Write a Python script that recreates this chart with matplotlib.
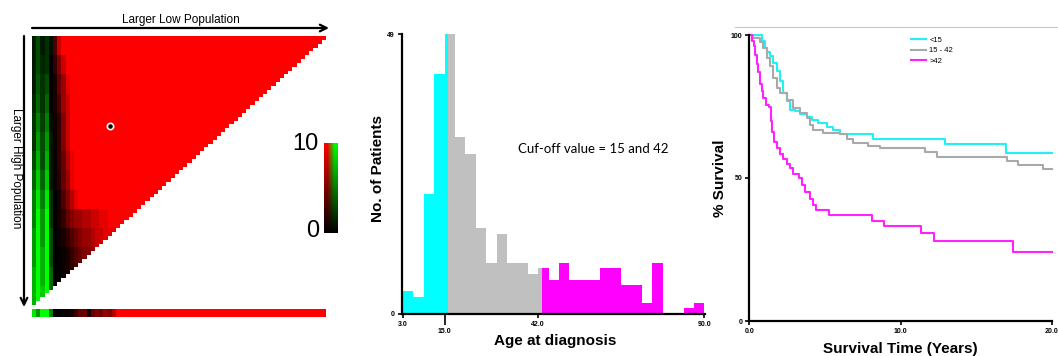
import numpy as np
import matplotlib
matplotlib.use('Agg')
from matplotlib import pyplot as plt
from matplotlib.colors import LinearSegmentedColormap

plt.rcParams['font.family'] = 'Liberation Sans'

W, H = 1058, 356

# ------------------------------------------------------------
# X-tile plot (left): signed chi-square, green = inverse, red = direct
n_cells = 70
rows_per_band = 5
# values for the first columns of each 5-row band, every other column is saturated red (10)
band_00 = [-1, -3, -1, -2, -0.5, 3, 8]
band_01 = [-1, -3, -1.5, -2, 0, 2, 5, 8]
band_02 = [-1, -3.5, -2, -3, 0, 1, 4, 6, 9]
band_03 = [-1.5, -4, -2, -4, 0, 1, 3, 6, 8]
band_04 = [-2, -5, -2.5, -5, -0.5, 0.5, 2, 5, 8]
band_05 = [-2, -6, -3, -6, -1, 0.5, 2, 5, 8]
band_06 = [-3, -7, -3, -7, -1, 0.5, 2, 4, 7, 9]
band_07 = [-4, -8, -4, -8, -1, 0.5, 1.5, 4, 6, 9]
band_08 = [-5, -9, -5, -9, -2, 0, 1, 3, 5, 7, 9]
band_09 = [-5, -10, -6, -10, -2, 0, 1, 2, 4, 5, 6, 6, 7, 7, 8, 8, 9, 9]
band_10 = [-6, -10, -6, -10, -3, 0, 0.5, 1, 2, 3, 4, 5, 6, 6, 7, 8, 8, 9, 9, 9]
band_11 = [-6, -10, -7, -10, -3, 0, 0, 0.5, 1, 2, 3, 4, 5, 5, 6]
band_12 = [-7, -10, -7, -10, -4, 0, 0, 0.5, 1, 1.5]
band_13 = [-7, -10, -8, -10, -4]
tri_bands = [band_00, band_01, band_02, band_03, band_04, band_05, band_06,
             band_07, band_08, band_09, band_10, band_11, band_12, band_13]
# one-cutpoint strip under the triangle
strip_head = [-9, -6, -10, -10, -5, 0, 0, 0.5, 0.5, 1, 2, 4, 4, 1, 4, 5, 4, 6, 5, 7]
opt_row, opt_col = 23, 18

# ------------------------------------------------------------
# histogram (middle)
age_edges = list(range(3, 91, 3))
age_counts = [4, 3, 21, 42, 49, 31, 28, 15, 9, 14, 9, 9, 7, 8, 6, 9, 6, 6, 6,
              8, 8, 5, 5, 2, 9, 0, 0, 1, 2]
age_splits = [16, 43]
age_colors = ['#00ffff', '#c0c0c0', '#ff00ff']
age_major = [3, 42, 90]
age_minor = [15]

# ------------------------------------------------------------
# Kaplan-Meier curves (right)
grp_labels = ['<15', '15 - 42', '>42']
grp_colors = ['#22f0f5', '#a9a9a9', '#ff22ff']
t_low = [0, 0.82, 1.04, 1.2, 1.37, 1.59, 1.81, 2.03, 2.25, 2.47, 2.69, 3.0, 3.35,
         3.79, 4.12, 4.57, 5.12, 5.56, 6.0, 8.2, 12.94, 16.98, 20.0]
s_low = [100, 97.8, 95.5, 94, 92.6, 90.2, 87.3, 83.8, 79.7, 76.8, 73.9, 73.4, 72.5,
         71.5, 70.3, 69.2, 68.0, 66.9, 65.4, 63.5, 61.9, 58.9, 58.9]
t_mid = [0, 0.27, 0.71, 0.93, 1.15, 1.37, 1.59, 1.81, 2.03, 2.47, 2.91, 3.35, 3.79,
         4.01, 4.23, 4.9, 6.0, 6.44, 6.88, 7.87, 8.64, 11.6, 12.4, 17.02, 17.8, 19.4, 20.0]
s_mid = [100, 99, 97.5, 95.5, 92, 89, 85, 81.5, 79.7, 77.4, 74.5, 72.7, 71,
         68.7, 66.9, 65.7, 65.4, 63.8, 62.3, 61.2, 60.4, 59.2, 57.3, 55.8, 54.4, 53.3, 53.3]
t_high = [0, 0.2, 0.3, 0.4, 0.5, 0.6, 0.7, 0.82, 0.93, 1.1, 1.3, 1.42, 1.52, 1.65,
          1.81, 2.03, 2.25, 2.47, 2.69, 2.91, 3.3, 3.5, 3.7, 4.0, 4.2, 4.43, 5.3,
          8.1, 8.9, 11.35, 12.2, 17.42, 20.0]
s_high = [100, 98, 96, 93, 90, 87, 83, 80.5, 78, 75.5, 74.8, 70, 66, 62.5,
          60.5, 58.5, 56.5, 55, 53.5, 51.5, 50, 47.7, 45, 42.5, 40.5, 38.8, 37.1,
          35.1, 33.2, 30.7, 28, 24.2, 24.2]


def px_axes(fig, x0, y0, x1, y1):
    return fig.add_axes([x0 / W, 1 - y1 / H, (x1 - x0) / W, (y1 - y0) / H])


def bold_ticks(ax, size=5):
    ax.tick_params(which='both', labelsize=size)
    for lbl in ax.get_xticklabels(which='both') + ax.get_yticklabels():
        lbl.set_fontweight('bold')


def xtile_panel(fig, over):
    cmap = LinearSegmentedColormap.from_list('xtile', ['#00ff00', '#000000', '#ff0000'])
    cmap.set_bad((1, 1, 1, 0))

    mat = np.full((n_cells, n_cells), np.nan)
    for i in range(n_cells):
        band = tri_bands[i // rows_per_band]
        for j in range(n_cells - i):
            mat[i, j] = band[j] if j < len(band) else 10

    ax = px_axes(fig, 32.3, 36, 325.5, 305)
    ax.imshow(mat, cmap=cmap, vmin=-10, vmax=10, aspect='auto',
              interpolation='nearest', extent=(0, n_cells, n_cells, 0))
    ax.plot(opt_col + 0.5, opt_row + 0.5, 'o', ms=4.5, mfc='black', mec='white', mew=1.2)
    ax.axis('off')

    strip = strip_head + [10] * (n_cells - len(strip_head))
    ax_s = px_axes(fig, 32.3, 309, 325.5, 317)
    ax_s.imshow([strip], cmap=cmap, vmin=-10, vmax=10, aspect='auto', interpolation='nearest')
    ax_s.axis('off')

    # two-sided colour bar
    ax_c = px_axes(fig, 324.3, 143.3, 338.3, 233.3)
    grad = np.column_stack([np.linspace(10, 0, 64), np.linspace(-10, 0, 64)])
    ax_c.imshow(grad, cmap=cmap, vmin=-10, vmax=10, aspect='auto', interpolation='bilinear')
    ax_c.axis('off')
    over.text(319, 144, '10', fontsize=17, ha='right', va='center')
    over.text(319, 231, '0', fontsize=17, ha='right', va='center')

    arrow = dict(arrowstyle='->', lw=1.6, color='black', mutation_scale=12, shrinkA=0, shrinkB=0)
    over.annotate('', xy=(329, 28), xytext=(32, 28), arrowprops=arrow)
    over.annotate('', xy=(24, 307), xytext=(24, 36), arrowprops=arrow)
    over.text(181, 20, 'Larger Low Population', fontsize=8.5, ha='center', va='center')
    over.text(16, 168, 'Larger High Population', fontsize=8.5, ha='center', va='center',
              rotation=-90)


def hist_panel(fig):
    ax = px_axes(fig, 401.7, 34, 705, 314)
    breaks = [age_edges[0]] + age_splits + [age_edges[-1]]
    for lo, hi, n in zip(age_edges[:-1], age_edges[1:], age_counts):
        for k in range(3):
            a, b = max(lo, breaks[k]), min(hi, breaks[k + 1])
            if b > a and n > 0:
                ax.bar(a, n, width=b - a, align='edge', color=age_colors[k], linewidth=0)

    ax.set_xlim(2.6, 90.2)
    ax.set_ylim(0, 49)
    ax.set_xticks(age_major)
    ax.set_xticklabels(['%.1f' % v for v in age_major])
    ax.set_xticks(age_minor, minor=True)
    ax.set_xticklabels(['%.1f' % v for v in age_minor], minor=True)
    ax.set_yticks([0, 49])
    ax.tick_params(direction='out', length=3, width=1.2, pad=2)
    ax.tick_params(axis='x', which='minor', length=8, width=1.2, pad=2)
    bold_ticks(ax)
    for side in ['top', 'right']:
        ax.spines[side].set_visible(False)
    for side in ['left', 'bottom']:
        ax.spines[side].set_linewidth(1.6)

    ax.text(0.63, 0.59, 'Cuf-off value = 15 and 42', transform=ax.transAxes,
            fontsize=9.5, family='Lato', ha='center', va='center')
    ax.set_xlabel('Age at diagnosis', fontsize=11, fontweight='bold')
    ax.xaxis.set_label_coords(0.505, -0.072)
    ax.set_ylabel('No. of Patients', fontsize=11, fontweight='bold')
    ax.yaxis.set_label_coords(-0.056, 0.52)


def survival_panel(fig, over):
    ax = px_axes(fig, 749.3, 35, 1051.7, 321)
    curves = [(t_low, s_low), (t_mid, s_mid), (t_high, s_high)]
    for (t, s), lab, col in zip(curves, grp_labels, grp_colors):
        ax.step(t, s, where='post', color=col, lw=1.5, label=lab, clip_on=False)

    ax.set_xlim(0, 20)
    ax.set_ylim(0, 100)
    ax.set_xticks([0, 10, 20])
    ax.set_xticklabels(['0.0', '10.0', '20.0'])
    ax.set_yticks([0, 50, 100])
    ax.tick_params(direction='out', length=3, width=1.2, pad=2)
    bold_ticks(ax)
    for side in ['top', 'right']:
        ax.spines[side].set_visible(False)
    for side in ['left', 'bottom']:
        ax.spines[side].set_linewidth(1.6)

    ax.legend(loc='upper left', bbox_to_anchor=(0.535, 0.995), frameon=False, fontsize=5.5,
              handlelength=1.9, handletextpad=0.5, labelspacing=0.4, borderpad=0,
              borderaxespad=0)
    ax.set_xlabel('Survival Time (Years)', fontsize=11, fontweight='bold')
    ax.xaxis.set_label_coords(0.5, -0.075)
    ax.set_ylabel('% Survival', fontsize=11, fontweight='bold')
    ax.yaxis.set_label_coords(-0.075, 0.5)

    over.plot([735, 1058], [27, 27], color='#c8c8c8', lw=0.8)


if __name__ == '__main__':
    fig = plt.figure(figsize=(W / 100, H / 100), dpi=100)
    over = fig.add_axes([0, 0, 1, 1])
    over.set_xlim(0, W)
    over.set_ylim(H, 0)
    over.axis('off')
    over.set_zorder(5)

    xtile_panel(fig, over)
    hist_panel(fig)
    survival_panel(fig, over)

    fig.savefig('out.png', dpi=100)
